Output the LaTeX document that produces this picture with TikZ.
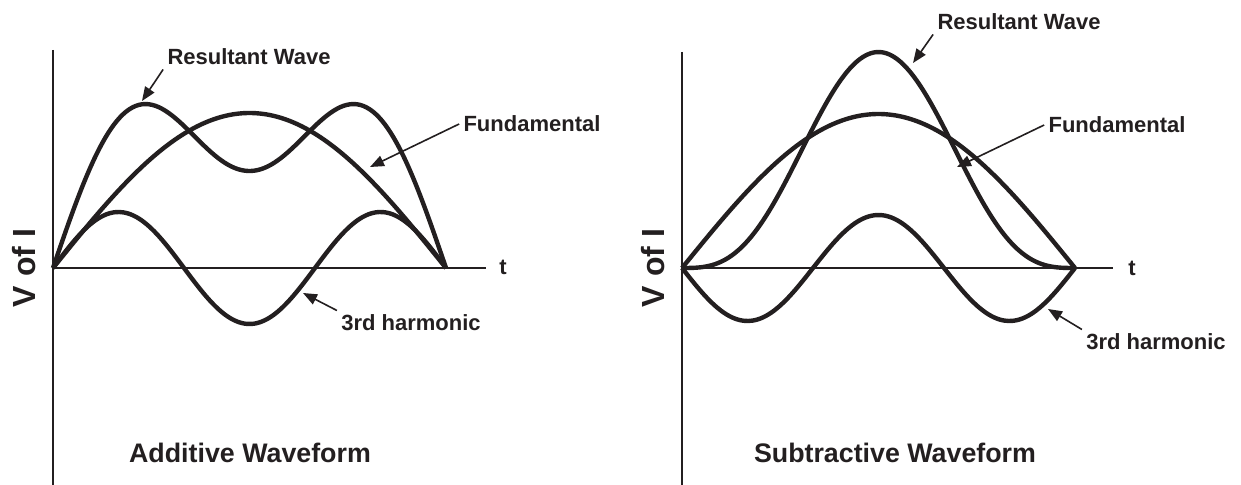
\documentclass[tikz,border=0pt]{standalone}
\usepackage{fontspec}
\setmainfont{Liberation Sans}
\usetikzlibrary{arrows.meta}
\definecolor{ink}{HTML}{231F20}

\begin{document}
\begin{tikzpicture}[x=0.5pt,y=-0.5pt,
  wave/.style={draw=ink,line width=2.2pt,line join=round},
  axis/.style={draw=ink,line width=1pt},
  pointer/.style={-{Triangle[length=7pt,width=5.5pt]},draw=ink,line width=0.8pt},
  note/.style={font=\bfseries\fontsize{11}{13}\selectfont,text=ink,inner sep=2pt},
  heading/.style={font=\bfseries\fontsize{13.4}{16}\selectfont,text=ink},
  ylab/.style={font=\bfseries\fontsize{16}{19}\selectfont,text=ink,rotate=90},
]
\useasboundingbox (0,0) rectangle (1241,485);
% additive waveform
\draw[axis] (53,50)--(53,485);
\draw[axis] (53,268)--(486,268);
\draw[wave] plot[domain=0:180,samples=90,smooth] ({53+\x/180*393},{268-155*sin(\x)});
\draw[wave] plot[domain=0:180,samples=90,smooth] ({53+\x/180*393},{268-56*sin(3*\x)});
\draw[wave] plot[domain=0:180,samples=120,smooth] ({53+\x/180*393},{268-164*sin(\x)-67*sin(3*\x)});
\node[note] (tA) at (503,267) {t};
\node[ylab] (vA) at (24,268) {V of I};
\node[note] (resA) at (249,57) {Resultant Wave};
\node[note] (funA) at (532,124) {Fundamental};
\node[note] (harA) at (411,323) {3rd harmonic};
\node[heading] (titA) at (250,453) {Additive Waveform};
\coordinate (resAtip) at (142,101);
\coordinate (funAtip) at (370,167);
\coordinate (harAtip) at (303,293);
\draw[pointer] (resA.south west) -- (resAtip);
\draw[pointer] (funA.west) -- (funAtip);
\draw[pointer] (harA.north west) -- (harAtip);
% subtractive waveform
\draw[axis] (682,52)--(682,485);
\draw[axis] (682,268)--(1113,268);
\draw[wave] plot[domain=0:180,samples=90,smooth] ({682+\x/180*393},{268-154*sin(\x)});
\draw[wave] plot[domain=0:180,samples=90,smooth] ({682+\x/180*393},{268+53*sin(3*\x)});
\draw[wave] plot[domain=0:180,samples=120,smooth] ({682+\x/180*393},{268-162*sin(\x)+54*sin(3*\x)});
\node[note] (tB) at (1132,268) {t};
\node[ylab] (vB) at (653,268) {V of I};
\node[note] (resB) at (1019,22) {Resultant Wave};
\node[note] (funB) at (1117,125) {Fundamental};
\node[note] (harB) at (1156,342) {3rd harmonic};
\node[heading] (titB) at (895,453) {Subtractive Waveform};
\coordinate (resBtip) at (913,63);
\coordinate (funBtip) at (957,167);
\coordinate (harBtip) at (1048,309);
\draw[pointer] (resB.south west) -- (resBtip);
\draw[pointer] (funB.west) -- (funBtip);
\draw[pointer] (harB.north west) -- (harBtip);
\end{tikzpicture}
\end{document}
